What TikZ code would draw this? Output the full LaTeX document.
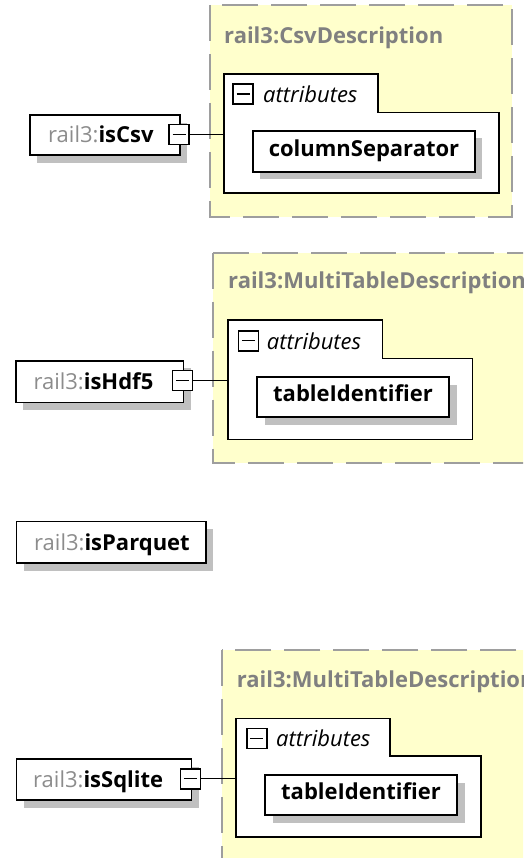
\documentclass[tikz,border=0pt]{standalone}
\usepackage{fontspec}
\setmainfont{Open Sans}
\definecolor{bgyellow}{RGB}{255,255,204}
\definecolor{dashgray}{RGB}{158,158,158}
\definecolor{titlegray}{RGB}{128,128,128}
\definecolor{nsgray}{RGB}{140,140,140}
\definecolor{shadowgray}{RGB}{192,192,192}
\tikzset{
  typebox/.style={draw=dashgray, fill=bgyellow, line width=1.8pt, dash pattern=on 36pt off 13pt},
  groupshape/.style={draw=black, fill=white, line width=1.6pt},
  elbox/.style={draw=black, fill=white, line width=1.6pt, inner sep=0pt, anchor=north west},
  shadowfill/.style={fill=shadowgray},
  minusbox/.style={draw=black, fill=white, line width=1.6pt, inner sep=0pt, minimum width=20pt, minimum height=20pt,
    path picture={\draw[line width=1.5pt] ([xshift=3.5pt]path picture bounding box.west) -- ([xshift=-3.5pt]path picture bounding box.east);}},
  conn/.style={draw=black, line width=1.4pt},
  titletext/.style={anchor=base west, inner sep=0pt, text=titlegray, font=\fontsize{22}{24}\selectfont\bfseries},
  attrtext/.style={anchor=base west, inner sep=0pt, font=\fontsize{22}{24}\selectfont\itshape},
  eltext/.style={anchor=base west, inner sep=0pt, font=\fontsize{22}{24}\selectfont},
  attrname/.style={inner sep=0pt, font=\fontsize{22}{24}\selectfont\bfseries}
}
\newcommand{\elname}[1]{{\color{nsgray}rail3:}\textbf{#1}}
\begin{document}
\begin{tikzpicture}[x=1pt,y=-1pt]
\useasboundingbox (0,0) rectangle (523,858);
\clip (0,0) rectangle (523,858);

% ---------------- Section 1: isCsv ----------------
\path[typebox] (210,5) rectangle (512,217);
\node[titletext] (title1) at (224,43.3) {rail3:CsvDescription};
\path[groupshape] (224,74) -- (378,74) -- (378,112.5) -- (499,112.5) -- (499,193) -- (224,193) -- cycle;
\coordinate (grp1) at (224,134.5);
\node[minusbox] (grp1m) at (243,94) {};
\node[attrtext] (attr1) at (263,102.7) {attributes};
\fill[shadowfill] (260,138) rectangle (482,179);
\node[elbox, minimum width=222pt, minimum height=41pt] (colsep) at (252,130) {};
\node[attrname] (colsept) at (364,150.5) {\vphantom{Ap}columnSeparator};
\fill[shadowfill] (37,123) rectangle (187,163);
\node[elbox, minimum width=150pt, minimum height=40pt] (csv) at (29,114) {};
\node[eltext] (csvt) at (48,142.7) {\elname{isCsv}};
\node[minusbox] (csvm) at (179,134.5) {};
\draw[conn] (csvm.east) -- (csvm.east -| grp1);

% ---------------- Section 2: isHdf5 ----------------
\path[typebox] (213.3,252.7) rectangle (560,462.7);
\node[titletext] (title2) at (228,288.3) {rail3:MultiTableDescription};
\path[groupshape] (227.7,320) -- (382.3,320) -- (382.3,358.3) -- (472.3,358.3) -- (472.3,439.3) -- (227.7,439.3) -- cycle;
\coordinate (grp2) at (227.7,380.5);
\node[minusbox] (grp2m) at (248.3,340.7) {};
\node[attrtext] (attr2) at (266.7,349) {attributes};
\fill[shadowfill] (264.7,385) rectangle (457,425);
\node[elbox, minimum width=192.3pt, minimum height=40pt] (tid2) at (256,376) {};
\node[attrname] (tid2t) at (353,396) {\vphantom{Ap}tableIdentifier};
\fill[shadowfill] (23,368) rectangle (191,409.7);
\node[elbox, minimum width=167.7pt, minimum height=41.7pt] (hdf) at (15,360) {};
\node[eltext] (hdft) at (33.3,389) {\elname{isHdf5}};
\node[minusbox] (hdfm) at (182.3,380.5) {};
\draw[conn] (hdfm.east) -- (hdfm.east -| grp2);

% ---------------- Section 3: isParquet ----------------
\fill[shadowfill] (23.7,529) rectangle (213,570.7);
\node[elbox, minimum width=189.3pt, minimum height=41.6pt] (parq) at (15.7,520.7) {};
\node[eltext] (parqt) at (34,550) {\elname{isParquet}};

% ---------------- Section 4: isSqlite ----------------
\path[typebox] (221.7,650) rectangle (560,900);
\node[titletext] (title3) at (236.7,687.3) {rail3:MultiTableDescription};
\path[groupshape] (236,718.3) -- (390,718.3) -- (390,756) -- (480.7,756) -- (480.7,836.7) -- (236,836.7) -- cycle;
\coordinate (grp3) at (236,778.7);
\node[minusbox] (grp3m) at (256.7,738.3) {};
\node[attrtext] (attr3) at (276,746.7) {attributes};
\fill[shadowfill] (272.7,783) rectangle (465,823);
\node[elbox, minimum width=192pt, minimum height=40.3pt] (tid3) at (264,774) {};
\node[attrname] (tid3t) at (361,794.2) {\vphantom{Ap}tableIdentifier};
\fill[shadowfill] (23.7,767) rectangle (198.7,807.7);
\node[elbox, minimum width=175pt, minimum height=40.7pt] (sql) at (15.7,758.3) {};
\node[eltext] (sqlt) at (33,787.5) {\elname{isSqlite}};
\node[minusbox] (sqlm) at (190.3,778.7) {};
\draw[conn] (sqlm.east) -- (sqlm.east -| grp3);
\end{tikzpicture}
\end{document}
